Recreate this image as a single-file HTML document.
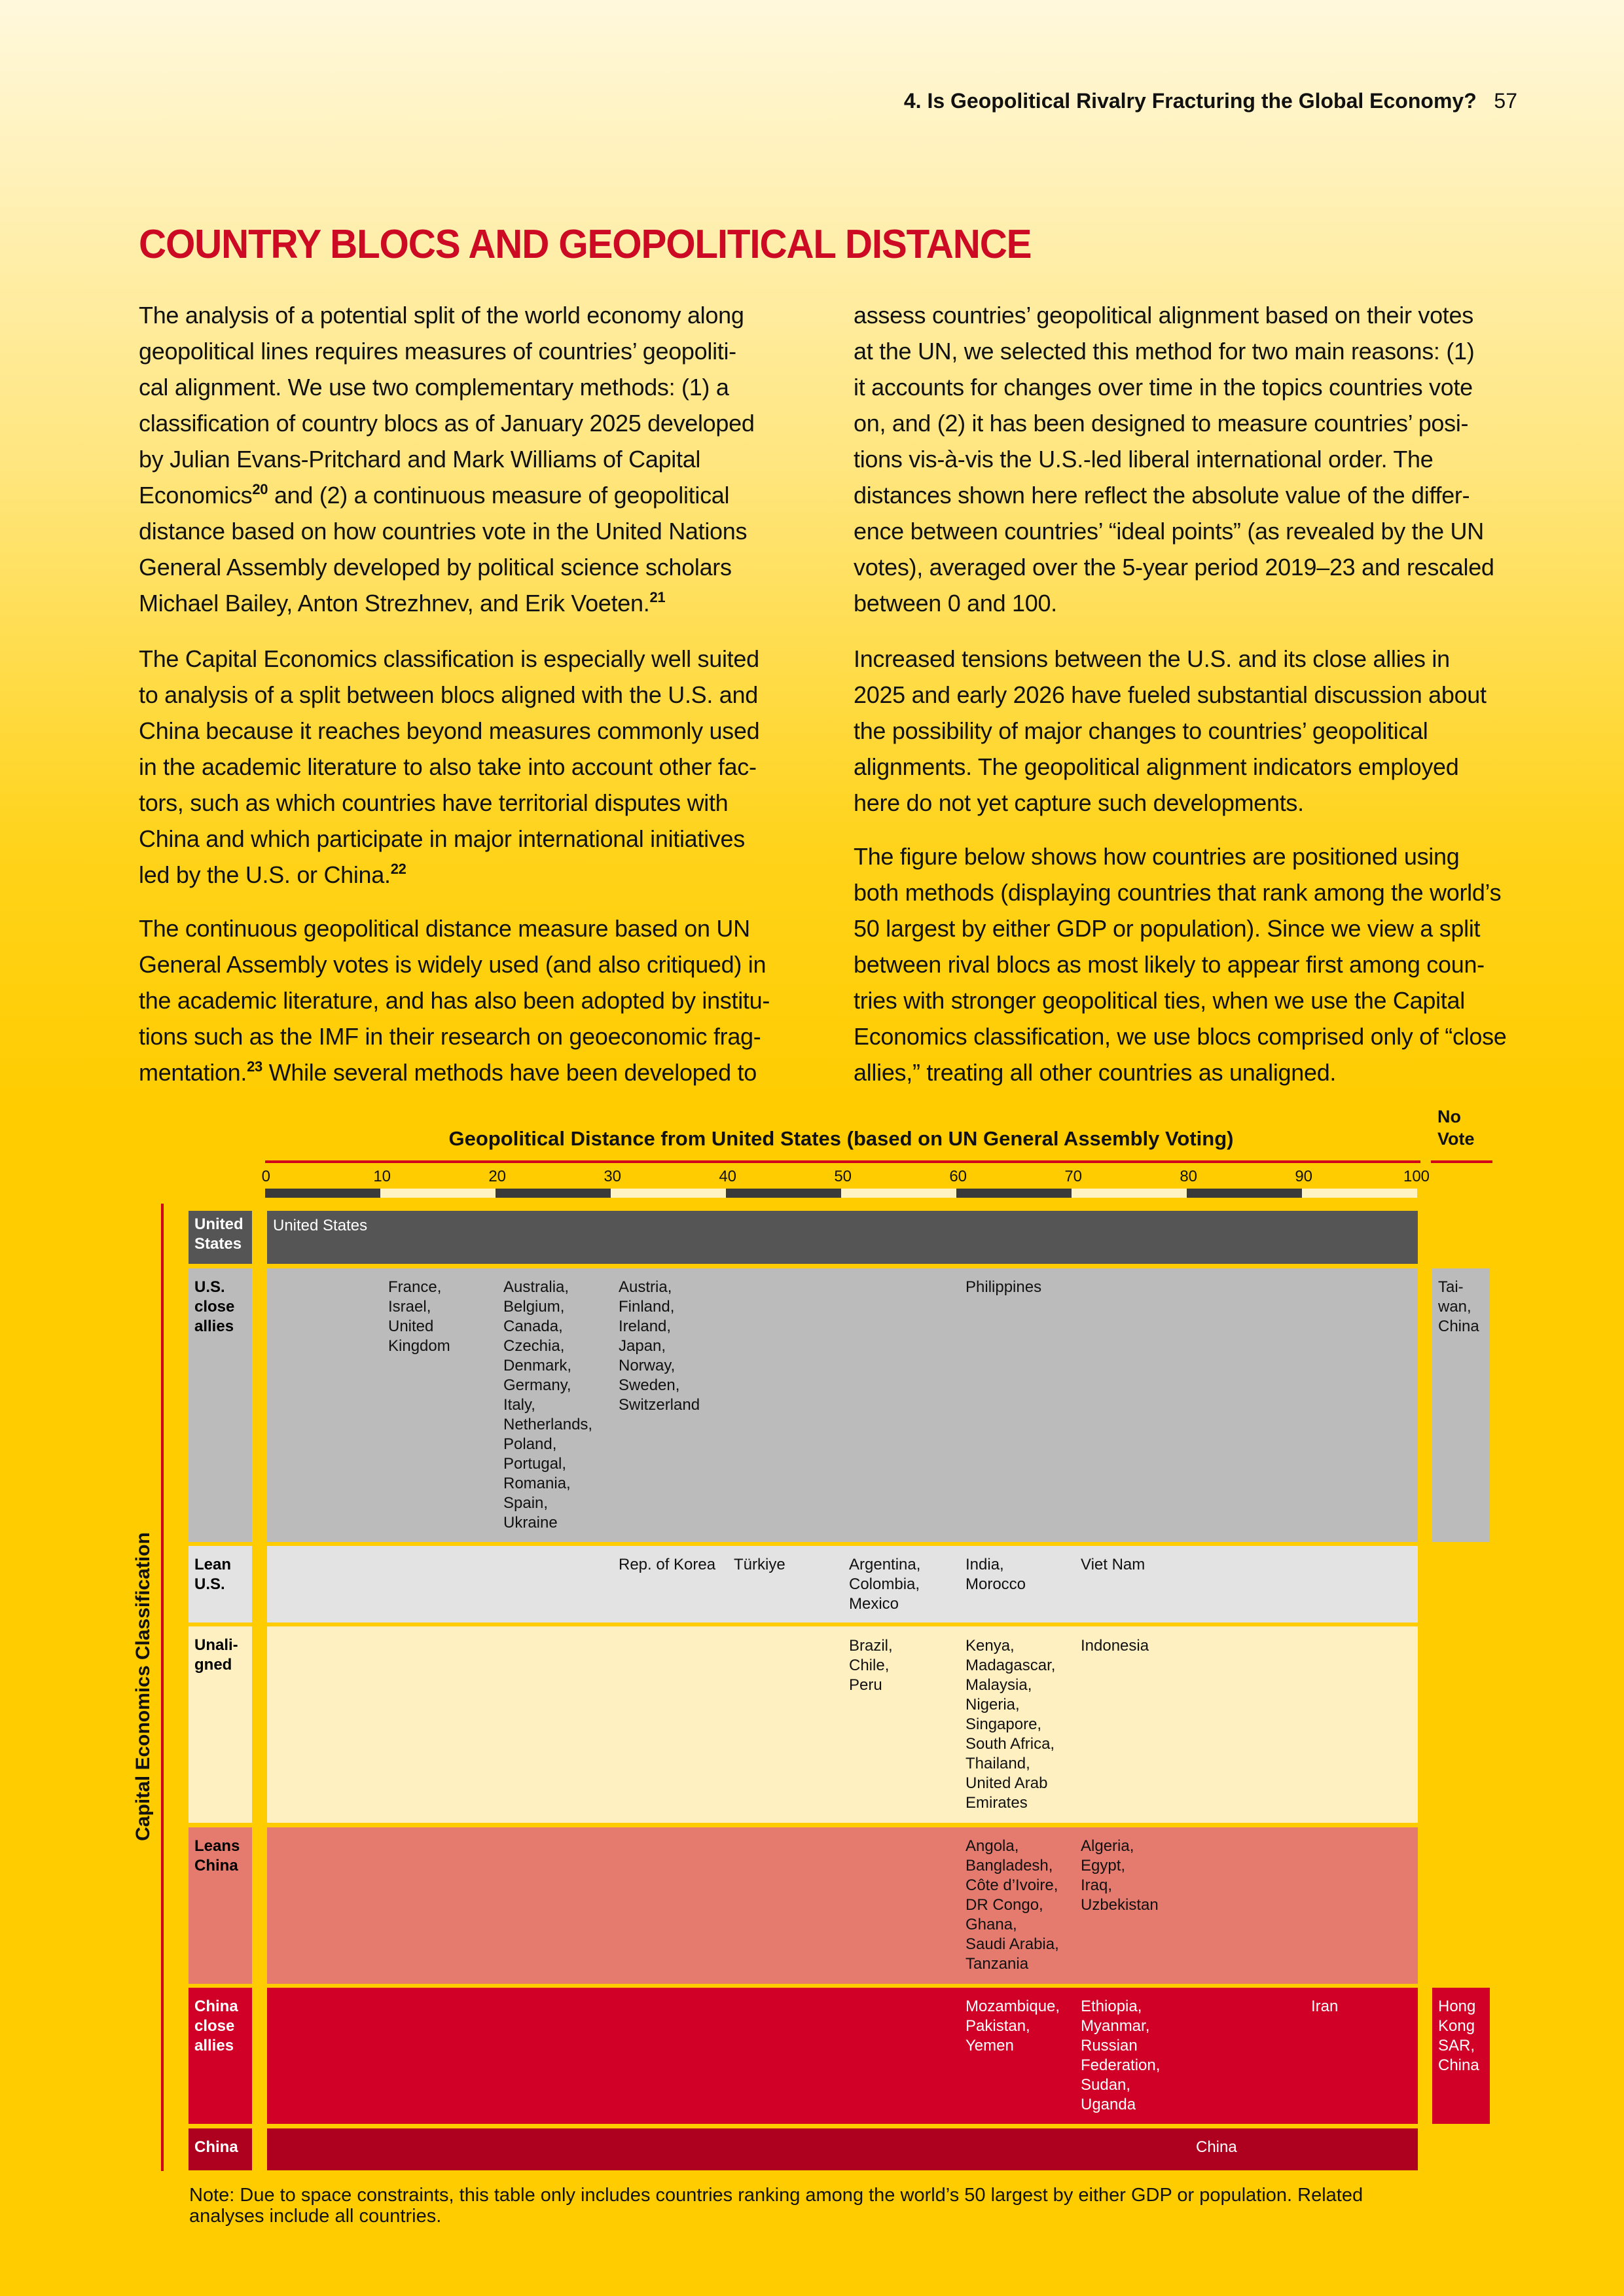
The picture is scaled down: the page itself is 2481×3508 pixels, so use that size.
<!DOCTYPE html>
<html><head><meta charset="utf-8"><style>
*{margin:0;padding:0;box-sizing:border-box}
body{width:2481px;height:3508px;position:relative;overflow:hidden;font-family:"Liberation Sans",sans-serif;background:linear-gradient(180deg,#fff8dc 0px,#ffe680 700px,#ffd31a 1300px,#ffcc00 1700px,#ffcc00 3508px);}
.a{position:absolute;white-space:nowrap}
sup{font-size:22px;line-height:0;vertical-align:baseline;position:relative;top:-14px;font-weight:bold}
.hd{right:163px;top:136px;font-size:32px;font-weight:bold;color:#111}
.title{left:212px;top:338px;font-size:62px;font-weight:bold;color:#cc0a23;letter-spacing:-1.2px;transform:scaleX(0.94);transform-origin:left}
.body{font-size:36px;line-height:55px;color:#111;letter-spacing:-0.3px}
.c{font-family:"Liberation Sans Narrow","Liberation Sans",sans-serif;font-size:24px;line-height:30px;color:#111}
.w{color:#fff}
.lbl{font-family:"Liberation Sans Narrow","Liberation Sans",sans-serif;font-size:24px;line-height:30px;font-weight:bold}
.r{position:absolute}
.tk{position:absolute;top:1784px;font-size:24px;color:#111;transform:translateX(-40%)}
</style></head><body>
<div class="a hd">4. Is Geopolitical Rivalry Fracturing the Global Economy?&nbsp;&nbsp;&nbsp;<span style="font-weight:normal">57</span></div>
<div class="a title">COUNTRY BLOCS AND GEOPOLITICAL DISTANCE</div>

<div class="a body" style="left:212px;top:454px">
The analysis of a potential split of the world economy along<br>
geopolitical lines requires measures of countries’ geopoliti-<br>
cal alignment. We use two complementary methods: (1) a<br>
classification of country blocs as of January 2025 developed<br>
by Julian Evans-Pritchard and Mark Williams of Capital<br>
Economics<sup>20</sup> and (2) a continuous measure of geopolitical<br>
distance based on how countries vote in the United Nations<br>
General Assembly developed by political science scholars<br>
Michael Bailey, Anton Strezhnev, and Erik Voeten.<sup>21</sup></div>
<div class="a body" style="left:212px;top:979px">
The Capital Economics classification is especially well suited<br>
to analysis of a split between blocs aligned with the U.S. and<br>
China because it reaches beyond measures commonly used<br>
in the academic literature to also take into account other fac-<br>
tors, such as which countries have territorial disputes with<br>
China and which participate in major international initiatives<br>
led by the U.S. or China.<sup>22</sup></div>
<div class="a body" style="left:212px;top:1391px">
The continuous geopolitical distance measure based on UN<br>
General Assembly votes is widely used (and also critiqued) in<br>
the academic literature, and has also been adopted by institu-<br>
tions such as the IMF in their research on geoeconomic frag-<br>
mentation.<sup>23</sup> While several methods have been developed to</div>

<div class="a body" style="left:1304px;top:454px">
assess countries’ geopolitical alignment based on their votes<br>
at the UN, we selected this method for two main reasons: (1)<br>
it accounts for changes over time in the topics countries vote<br>
on, and (2) it has been designed to measure countries’ posi-<br>
tions vis-à-vis the U.S.-led liberal international order. The<br>
distances shown here reflect the absolute value of the differ-<br>
ence between countries’ “ideal points” (as revealed by the UN<br>
votes), averaged over the 5-year period 2019–23 and rescaled<br>
between 0 and 100.</div>
<div class="a body" style="left:1304px;top:979px">
Increased tensions between the U.S. and its close allies in<br>
2025 and early 2026 have fueled substantial discussion about<br>
the possibility of major changes to countries’ geopolitical<br>
alignments. The geopolitical alignment indicators employed<br>
here do not yet capture such developments.</div>
<div class="a body" style="left:1304px;top:1281px">
The figure below shows how countries are positioned using<br>
both methods (displaying countries that rank among the world’s<br>
50 largest by either GDP or population). Since we view a split<br>
between rival blocs as most likely to appear first among coun-<br>
tries with stronger geopolitical ties, when we use the Capital<br>
Economics classification, we use blocs comprised only of “close<br>
allies,” treating all other countries as unaligned.</div>

<!-- chart header -->
<div class="a" style="left:405px;width:1760px;top:1722px;text-align:center;font-size:31px;font-weight:bold;color:#111">Geopolitical Distance from United States (based on UN General Assembly Voting)</div>
<div class="a" style="left:2196px;top:1689px;font-size:27px;line-height:34px;font-weight:bold;color:#111">No<br>Vote</div>
<div class="r" style="left:405px;top:1773px;width:1765px;height:4px;background:#d0021b"></div>
<div class="r" style="left:2186px;top:1773px;width:94px;height:4px;background:#d0021b"></div>
<div class="tk" style="left:405px">0</div><div class="tk" style="left:581px">10</div><div class="tk" style="left:757px">20</div><div class="tk" style="left:933px">30</div><div class="tk" style="left:1109px">40</div><div class="tk" style="left:1285px">50</div><div class="tk" style="left:1461px">60</div><div class="tk" style="left:1637px">70</div><div class="tk" style="left:1813px">80</div><div class="tk" style="left:1989px">90</div><div class="tk" style="left:2160px">100</div>
<div class="r" style="left:405px;top:1816px;width:1760px;height:14px;background:repeating-linear-gradient(90deg,#3a3a3a 0 176px,#fff3c4 176px 352px)"></div>

<!-- left axis -->
<div class="r" style="left:246px;top:1839px;width:4px;height:1478px;background:#d0021b"></div>
<div class="a" style="left:219px;top:2577px;transform:translate(-50%,-50%) rotate(-90deg);font-size:30px;font-weight:bold;color:#111">Capital Economics Classification</div>

<!-- rows: labels -->
<div class="r lbl w" style="left:288px;top:1850px;width:97px;height:81px;background:#555;padding:6px 9px">United<br>States</div>
<div class="r lbl" style="left:288px;top:1938px;width:97px;height:418px;background:#bbb;padding:14px 9px">U.S.<br>close<br>allies</div>
<div class="r lbl" style="left:288px;top:2362px;width:97px;height:117px;background:#e3e3e3;padding:14px 9px">Lean<br>U.S.</div>
<div class="r lbl" style="left:288px;top:2485px;width:97px;height:300px;background:#fff0c2;padding:14px 9px">Unali-<br>gned</div>
<div class="r lbl" style="left:288px;top:2792px;width:97px;height:239px;background:#e57b6f;padding:14px 9px">Leans<br>China</div>
<div class="r lbl w" style="left:288px;top:3037px;width:97px;height:208px;background:#d10026;padding:14px 9px">China<br>close<br>allies</div>
<div class="r lbl w" style="left:288px;top:3252px;width:97px;height:64px;background:#ae001f;padding:14px 9px">China</div>

<!-- rows: plot -->
<div class="r" style="left:408px;top:1850px;width:1758px;height:81px;background:#555"></div>
<div class="r" style="left:408px;top:1938px;width:1758px;height:418px;background:#bbb"></div>
<div class="r" style="left:408px;top:2362px;width:1758px;height:117px;background:#e3e3e3"></div>
<div class="r" style="left:408px;top:2485px;width:1758px;height:300px;background:#fff0c2"></div>
<div class="r" style="left:408px;top:2792px;width:1758px;height:239px;background:#e57b6f"></div>
<div class="r" style="left:408px;top:3037px;width:1758px;height:208px;background:#d10026"></div>
<div class="r" style="left:408px;top:3252px;width:1758px;height:64px;background:#ae001f"></div>
<div class="r c" style="left:2188px;top:1938px;width:88px;height:418px;background:#bbb;padding:14px 9px">Tai-<br>wan,<br>China</div>
<div class="r c w" style="left:2188px;top:3037px;width:88px;height:208px;background:#d10026;padding:14px 9px">Hong<br>Kong<br>SAR,<br>China</div>

<!-- countries -->
<div class="a c w" style="left:417px;top:1858px">United States</div>
<div class="a c" style="left:593px;top:1952px">France,<br>Israel,<br>United<br>Kingdom</div>
<div class="a c" style="left:769px;top:1952px">Australia,<br>Belgium,<br>Canada,<br>Czechia,<br>Denmark,<br>Germany,<br>Italy,<br>Netherlands,<br>Poland,<br>Portugal,<br>Romania,<br>Spain,<br>Ukraine</div>
<div class="a c" style="left:945px;top:1952px">Austria,<br>Finland,<br>Ireland,<br>Japan,<br>Norway,<br>Sweden,<br>Switzerland</div>
<div class="a c" style="left:1475px;top:1952px">Philippines</div>

<div class="a c" style="left:945px;top:2376px">Rep. of Korea</div>
<div class="a c" style="left:1121px;top:2376px">Türkiye</div>
<div class="a c" style="left:1297px;top:2376px">Argentina,<br>Colombia,<br>Mexico</div>
<div class="a c" style="left:1475px;top:2376px">India,<br>Morocco</div>
<div class="a c" style="left:1651px;top:2376px">Viet Nam</div>

<div class="a c" style="left:1297px;top:2500px">Brazil,<br>Chile,<br>Peru</div>
<div class="a c" style="left:1475px;top:2500px">Kenya,<br>Madagascar,<br>Malaysia,<br>Nigeria,<br>Singapore,<br>South Africa,<br>Thailand,<br>United Arab<br>Emirates</div>
<div class="a c" style="left:1651px;top:2500px">Indonesia</div>

<div class="a c" style="left:1475px;top:2806px">Angola,<br>Bangladesh,<br>Côte d’Ivoire,<br>DR Congo,<br>Ghana,<br>Saudi Arabia,<br>Tanzania</div>
<div class="a c" style="left:1651px;top:2806px">Algeria,<br>Egypt,<br>Iraq,<br>Uzbekistan</div>

<div class="a c w" style="left:1475px;top:3051px">Mozambique,<br>Pakistan,<br>Yemen</div>
<div class="a c w" style="left:1651px;top:3051px">Ethiopia,<br>Myanmar,<br>Russian<br>Federation,<br>Sudan,<br>Uganda</div>
<div class="a c w" style="left:2003px;top:3051px">Iran</div>
<div class="a c w" style="left:1827px;top:3266px">China</div>

<div class="a" style="left:289px;top:3338px;font-size:29px;line-height:32px;color:#111">Note: Due to space constraints, this table only includes countries ranking among the world’s 50 largest by either GDP or population. Related<br>analyses include all countries.</div>
</body></html>
